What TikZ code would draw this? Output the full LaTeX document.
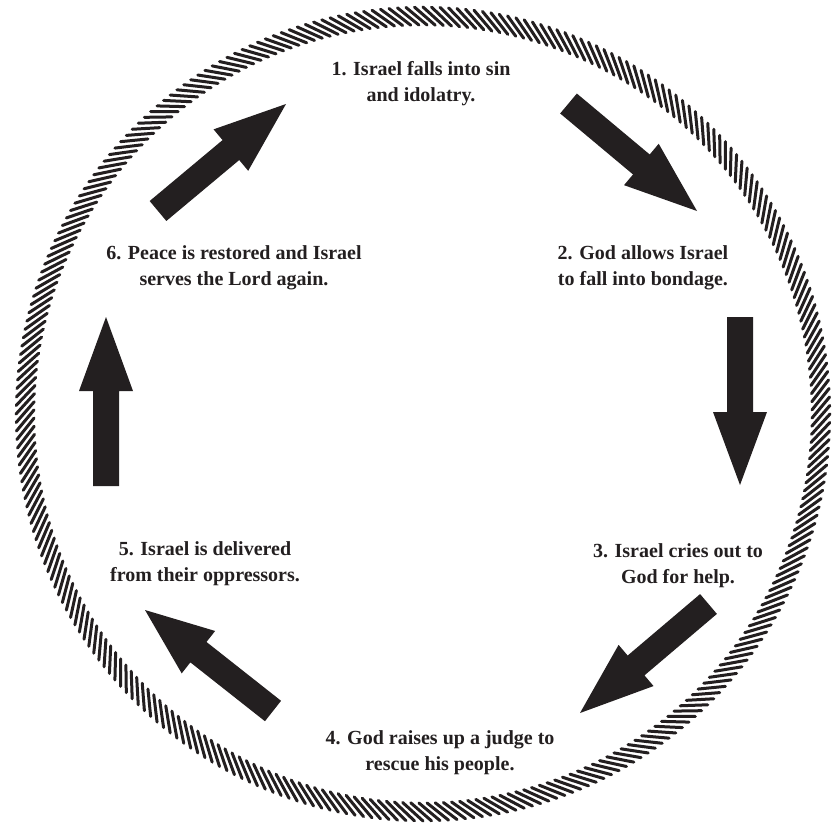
\documentclass[tikz,border=0pt]{standalone}
\usepackage{fontspec}
\setmainfont{Liberation Serif}
\usetikzlibrary{calc}
\definecolor{ink}{HTML}{231F20}
\tikzset{
  steplabel/.style={text=ink, font=\bfseries\fontsize{20}{26}\selectfont, align=center, inner sep=0pt},
  arrowfill/.style={fill=ink},
  ringstroke/.style={draw=ink, line width=3pt, line cap=round}
}
\newcommand\cyclearrow[2]{%
  \coordinate (neck) at ($(#1)!95pt!(#2)$);
  \fill[arrowfill] ($(#1)!13pt!90:(#2)$) -- ($(neck)!13pt!90:(#2)$) -- ($(neck)!27pt!90:(#2)$) -- (#2)
    -- ($(neck)!27pt!-90:(#2)$) -- ($(neck)!13pt!-90:(#2)$) -- ($(#1)!13pt!-90:(#2)$) -- cycle;}
\begin{document}
\begin{tikzpicture}[x=1pt, y=-1pt]
\useasboundingbox (0,0) rectangle (832,825);
% ring
\begin{scope}[shift={(423,414)}]
  \foreach \a in {0,1.2,...,359.9} {
    \draw[ringstroke] (\a:407) -- (\a+3:389);
  }
\end{scope}
% labels
\node[steplabel] (s1) at (421,84) {1. Israel falls into sin\\and idolatry.};
\node[steplabel] (s2) at (643,268) {2. God allows Israel\\to fall into bondage.};
\node[steplabel] (s3) at (678,566) {3. Israel cries out to\\God for help.};
\node[steplabel] (s4) at (440,753) {4. God raises up a judge to\\rescue his people.};
\node[steplabel] (s5) at (205,564) {5. Israel is delivered\\from their oppressors.};
\node[steplabel] (s6) at (234,268) {6. Peace is restored and Israel\\serves the Lord again.};
% arrow ends
\coordinate (a1t) at (568.5,103.5); \coordinate (a1h) at (697,211);
\coordinate (a2t) at (740,317);     \coordinate (a2h) at (740,485);
\coordinate (a3t) at (708.5,604);   \coordinate (a3h) at (580,713);
\coordinate (a4t) at (273,711);     \coordinate (a4h) at (145,610);
\coordinate (a5t) at (106,486);     \coordinate (a5h) at (106,317);
\coordinate (a6t) at (158,211);     \coordinate (a6h) at (286,104);
\cyclearrow{a1t}{a1h}
\cyclearrow{a2t}{a2h}
\cyclearrow{a3t}{a3h}
\cyclearrow{a4t}{a4h}
\cyclearrow{a5t}{a5h}
\cyclearrow{a6t}{a6h}
\end{tikzpicture}
\end{document}
